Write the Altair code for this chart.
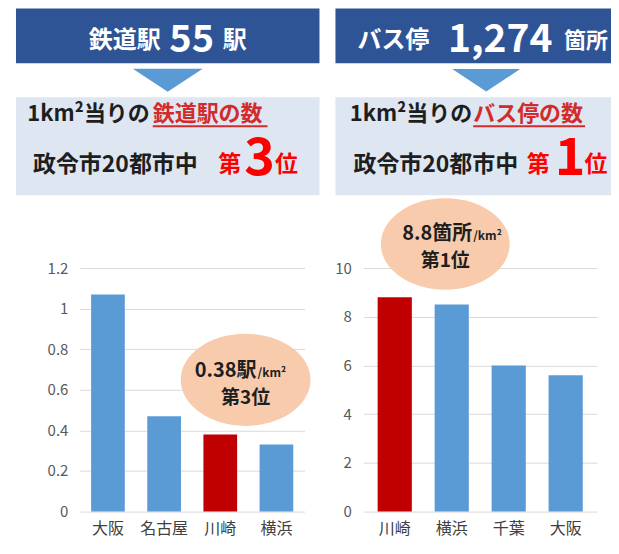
import altair as alt
import pandas as pd

# ---- data ----
rail_cities = ["大阪", "名古屋", "川崎", "横浜"]
rail_values = [1.07, 0.47, 0.38, 0.33]
bus_cities = ["川崎", "横浜", "千葉", "大阪"]
bus_values = [8.8, 8.5, 6.0, 5.6]
highlight_city = "川崎"
rail_ticks = [0, 0.2, 0.4, 0.6, 0.8, 1.0, 1.2]
bus_ticks = [0, 2, 4, 6, 8, 10]

# ---- texts ----
rail_header = ["鉄道駅", "55", "駅"]
bus_header = ["バス停", "1,274", "箇所"]
line1_prefix = "1km²当りの"
rail_line1 = "鉄道駅の数"
bus_line1 = "バス停の数"
line2_prefix = "政令市20都市中"
rail_rank = ["第", "3", "位"]
bus_rank = ["第", "1", "位"]
rail_bubble = ["0.38駅", "/km²", "第3位"]
bus_bubble = ["8.8箇所", "/km²", "第1位"]

FONT = "Noto Sans CJK JP"
NAVY = "#2F5496"
TRI = "#5B9BD5"
PALE = "#DDE6F1"
BLUE = "#5B9BD5"
RED = "#C00000"
BRIGHT_RED = "#FF0000"
DARK_RED = "#D22B2B"
PEACH = "#F8CBAD"
INK = "#1E1E1E"

TRI_PATH = "M -1 -0.33 L 1 -0.33 L 0 0.33 Z"
ELLIPSE_PATH = "M -1 0 A 1 0.71 0 1 0 1 0 A 1 0.71 0 1 0 -1 0 Z"

PLOT_H = 244


def one():
    return alt.Data(values=[{}])


def txt(s, px, py, size, color, o, align="center", weight="bold"):
    return alt.Chart(one()).mark_text(
        text=s, align=align, baseline="alphabetic", fontSize=size,
        font=FONT, fontWeight=weight, color=color
    ).encode(x=alt.value(px - o[0]), y=alt.value(py - o[1]))


def box(x1, y1, x2, y2, color, o):
    return alt.Chart(one()).mark_rect(color=color).encode(
        x=alt.value(x1 - o[0]), x2=alt.value(x2 - o[0]),
        y=alt.value(y1 - o[1]), y2=alt.value(y2 - o[1]))


def rule(x1, x2, y, color, o):
    return alt.Chart(one()).mark_rule(color=color, strokeWidth=2).encode(
        x=alt.value(x1 - o[0]), x2=alt.value(x2 - o[0]), y=alt.value(y - o[1]))


def shape(path, cx, cy, w, color, o):
    return alt.Chart(one()).mark_point(
        shape=path, size=w * w, filled=True, color=color, opacity=1, strokeWidth=0
    ).encode(x=alt.value(cx - o[0]), y=alt.value(cy - o[1]))


def bars(cities, values, ticks, ymax, outer):
    df = pd.DataFrame({"city": cities, "value": values})
    df["color"] = [RED if c == highlight_city else BLUE for c in cities]
    return alt.Chart(df).mark_bar().encode(
        x=alt.X("city:N", sort=cities, title=None,
                scale=alt.Scale(paddingInner=0.4, paddingOuter=outer),
                axis=alt.Axis(labelAngle=0, domain=False, ticks=False, grid=False,
                              labelFontSize=16, labelColor="#404040", labelFont=FONT,
                              labelPadding=9)),
        y=alt.Y("value:Q", title=None,
                scale=alt.Scale(domain=[0, ymax], nice=False),
                axis=alt.Axis(values=ticks, format=".1~f", domain=False, ticks=False,
                              grid=True, gridColor="#D9D9D9", labelFontSize=15,
                              labelColor="#595959", labelFont=FONT, labelPadding=12)),
        color=alt.Color("color:N", scale=None))


# left panel (plot origin in page coords)
L = (80, 268)
left = alt.layer(
    box(16, 8, 320, 63, NAVY, L),
    txt(rail_header[0], 125, 48, 24, "white", L),
    txt(rail_header[1], 192, 52, 38, "white", L),
    txt(rail_header[2], 235, 48, 24, "white", L),
    shape(TRI_PATH, 168, 80, 70, TRI, L),
    box(16, 97, 320, 195, PALE, L),
    txt(line1_prefix, 150, 121, 22, INK, L, align="right"),
    txt(rail_line1, 153, 121, 22, DARK_RED, L, align="left"),
    rule(153, 268, 126, DARK_RED, L),
    txt(line2_prefix, 33, 172, 23, INK, L, align="left"),
    txt(rail_rank[0], 230, 172, 23, BRIGHT_RED, L),
    txt(rail_rank[1], 260, 175, 52, BRIGHT_RED, L),
    txt(rail_rank[2], 287, 172, 23, BRIGHT_RED, L),
    bars(rail_cities, rail_values, rail_ticks, 1.2, 0.2),
    shape(ELLIPSE_PATH, 246, 380, 130, PEACH, L),
    txt(rail_bubble[0], 257, 377, 20, INK, L, align="right"),
    txt(rail_bubble[1], 258, 377, 12, INK, L, align="left"),
    txt(rail_bubble[2], 246, 404, 19, INK, L),
).properties(width=225, height=PLOT_H)

R = (363, 268)
right = alt.layer(
    box(335, 8, 611, 63, NAVY, R),
    txt(bus_header[0], 393, 48, 24, "white", R),
    txt(bus_header[1], 500, 52, 39, "white", R),
    txt(bus_header[2], 586, 48, 22, "white", R),
    shape(TRI_PATH, 486, 80, 68, TRI, R),
    box(335, 97, 611, 195, PALE, R),
    txt(line1_prefix, 472, 121, 22, INK, R, align="right"),
    txt(bus_line1, 473, 121, 22, DARK_RED, R, align="left"),
    rule(473, 585, 126, DARK_RED, R),
    txt(line2_prefix, 353, 172, 23, INK, R, align="left"),
    txt(bus_rank[0], 538, 172, 23, BRIGHT_RED, R),
    txt(bus_rank[1], 570, 175, 52, BRIGHT_RED, R),
    txt(bus_rank[2], 596, 172, 23, BRIGHT_RED, R),
    bars(bus_cities, bus_values, bus_ticks, 10, 0.25),
    shape(ELLIPSE_PATH, 445, 244, 129, PEACH, R),
    txt(bus_bubble[0], 472, 240, 20, INK, R, align="right"),
    txt(bus_bubble[1], 473, 240, 12, INK, R, align="left"),
    txt(bus_bubble[2], 445, 267, 19, INK, R),
).properties(width=234, height=PLOT_H)

chart = alt.hconcat(left, right, spacing=15).properties(
    padding={"left": 8, "top": 0, "right": 0, "bottom": 3}
).configure_view(stroke=None).configure_axis(labelFont=FONT)

chart.save("out.html", embed_options={"renderer": "svg", "actions": False})
